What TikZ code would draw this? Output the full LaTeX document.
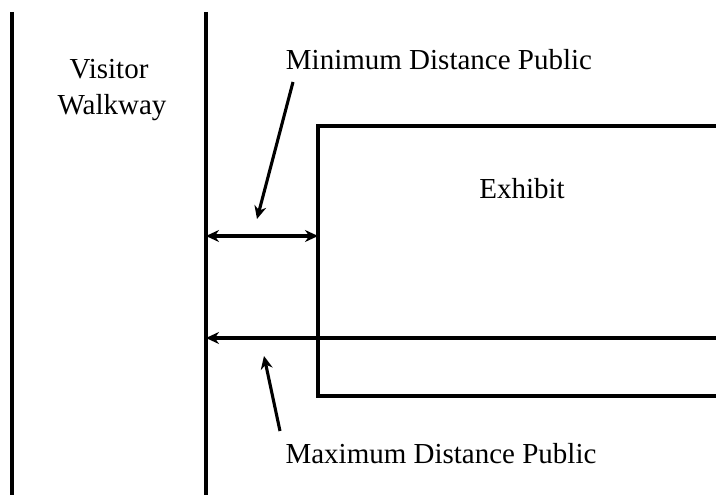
\documentclass[tikz,border=0pt]{standalone}
\usepackage{fontspec}
\setmainfont{Liberation Serif}
\usetikzlibrary{arrows.meta}
\begin{document}
\begin{tikzpicture}[x=1pt,y=-1pt,
  wall/.style={line width=3.1pt},
  dim/.style={line width=3.1pt},
  lbl/.style={font=\fontsize{29}{35}\selectfont, inner sep=0pt, anchor=base}]
\useasboundingbox (0,0) rectangle (716,495);
\coordinate (wl1) at (12,12);
\coordinate (wl2) at (12,495);
\coordinate (wr1) at (206,12);
\coordinate (wr2) at (206,495);
\draw[wall] (wl1) -- (wl2);
\draw[wall] (wr1) -- (wr2);
\coordinate (ex1) at (725,126);
\coordinate (ex2) at (318,126);
\coordinate (ex3) at (318,396);
\coordinate (ex4) at (725,396);
\draw[wall] (ex1) -- (ex2) -- (ex3) -- (ex4);
\node[lbl] (walk1) at (109,79) {Visitor};
\node[lbl] (walk2) at (112,115) {Walkway};
\node[lbl] (exh) at (522,198) {Exhibit};
\node[lbl] (minl) at (439,70) {Minimum Distance Public};
\node[lbl] (maxl) at (441,463) {Maximum Distance Public};
\coordinate (minA) at (206,236);
\coordinate (minB) at (318,236);
\draw[dim, {Stealth[length=13pt,width=12pt]}-{Stealth[length=13pt,width=12pt]}] (minA) -- (minB);
\coordinate (maxA) at (725,338);
\coordinate (maxB) at (206,338);
\draw[dim, -{Stealth[length=13pt,width=12pt]}] (maxA) -- (maxB);
\coordinate (p1s) at (293,82);
\coordinate (p1e) at (257,219);
\draw[dim, -{Stealth[length=13pt,width=12pt]}] (p1s) -- (p1e);
\coordinate (p2s) at (280,431);
\coordinate (p2e) at (264,356);
\draw[dim, -{Stealth[length=13pt,width=12pt]}] (p2s) -- (p2e);
\end{tikzpicture}
\end{document}
